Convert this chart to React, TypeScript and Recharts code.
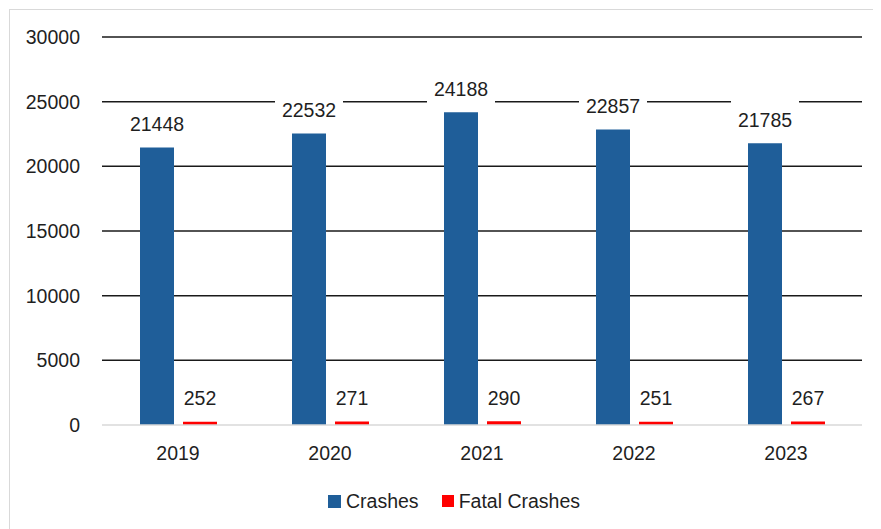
import React from 'react';
import { BarChart, Bar, XAxis, YAxis, CartesianGrid, Legend, LabelList } from 'recharts';

const categories = ['2019', '2020', '2021', '2022', '2023'];
const crashes = [21448, 22532, 24188, 22857, 21785];
const fatalCrashes = [252, 271, 290, 251, 267];
const yTicks = [0, 5000, 10000, 15000, 20000, 25000, 30000];

const seriesNames = { crashes: 'Crashes', fatal: 'Fatal Crashes' };
const colors = { crashes: '#1F5E99', fatal: '#FF0000' };

const data = categories.map((c, i) => ({ year: c, crashes: crashes[i], fatal: fatalCrashes[i] }));

const FONT = '"Liberation Sans", Arial, sans-serif';
const TEXT = '#1f1f1f';
const FS = 19.5;
const PLOT_BOTTOM = 417;

const renderLabel = (props: any) => {
  const x = Number(props.x);
  const y = Number(props.y);
  const width = Number(props.width);
  const value = props.value;
  const cx = x + width / 2;
  const cy = y - 23.5;
  const w = String(value).length * 10.8 + 14;
  return (
    <g>
      <rect x={cx - w / 2} y={cy - 21} width={w} height={42} fill="#ffffff" />
      <text x={cx} y={cy + 7} textAnchor="middle" fontSize={FS} fontFamily={FONT} fill={TEXT}>
        {value}
      </text>
    </g>
  );
};

const XTick = (props: any) => {
  const { x, payload } = props;
  return (
    <text x={x} y={PLOT_BOTTOM + 28 + 7} textAnchor="middle" fontSize={FS} fontFamily={FONT} fill={TEXT}>
      {payload.value}
    </text>
  );
};

const YTick = (props: any) => {
  const { y, payload } = props;
  return (
    <text x={72} y={Number(y) + 7} textAnchor="end" fontSize={FS} fontFamily={FONT} fill={TEXT}>
      {payload.value}
    </text>
  );
};

const gridLine = (p: any) => {
  if (Math.abs(Number(p.y1) - PLOT_BOTTOM) < 1) return <g key={p.key} />;
  return (
    <line key={p.key} x1={p.x1} x2={p.x2} y1={p.y1} y2={p.y2} stroke="#1a1a1a" strokeWidth={1.5} />
  );
};

const LegendContent = () => (
  <div style={{ display: 'flex', alignItems: 'center', marginLeft: 320, fontFamily: FONT, fontSize: FS, color: TEXT, height: 24 }}>
    <span style={{ display: 'inline-block', width: 13, height: 13, background: colors.crashes, marginRight: 5 }} />
    <span style={{ marginRight: 23 }}>{seriesNames.crashes}</span>
    <span style={{ display: 'inline-block', width: 12, height: 12, background: colors.fatal, marginRight: 5 }} />
    <span>{seriesNames.fatal}</span>
  </div>
);

export default function App() {
  return (
    <div style={{ position: 'relative', width: 873, height: 521, overflow: 'hidden', background: '#fff' }}>
      <div style={{ position: 'absolute', left: 1, top: 1, width: 900, height: 600, border: '1px solid #d9d9d9', boxSizing: 'border-box' }} />
      <div style={{ position: 'absolute', left: 0, top: 0 }}>
        <BarChart
          width={873}
          height={521}
          data={data}
          margin={{ top: 29, right: 19, left: 0, bottom: 64 }}
          barSize={34}
          barGap={9}
        >
          <CartesianGrid vertical={false} horizontal={gridLine} />
          <XAxis
            dataKey="year"
            height={40}
            tickLine={false}
            tickSize={0}
            axisLine={{ stroke: '#d9d9d9', strokeWidth: 1.5 }}
            tick={<XTick />}
          />
          <YAxis
            width={94}
            domain={[0, 30000]}
            ticks={yTicks}
            axisLine={false}
            tickLine={false}
            tick={<YTick />}
            interval={0}
          />
          <Legend
            layout="horizontal"
            verticalAlign="middle"
            align="center"
            content={<LegendContent />}
            wrapperStyle={{ position: 'absolute', left: 0, top: 481, width: 873, height: 24 }}
          />
          <Bar dataKey="crashes" name={seriesNames.crashes} fill={colors.crashes} isAnimationActive={false}>
            <LabelList dataKey="crashes" content={renderLabel} />
          </Bar>
          <Bar dataKey="fatal" name={seriesNames.fatal} fill={colors.fatal} isAnimationActive={false}>
            <LabelList dataKey="fatal" content={renderLabel} />
          </Bar>
        </BarChart>
      </div>
    </div>
  );
}
